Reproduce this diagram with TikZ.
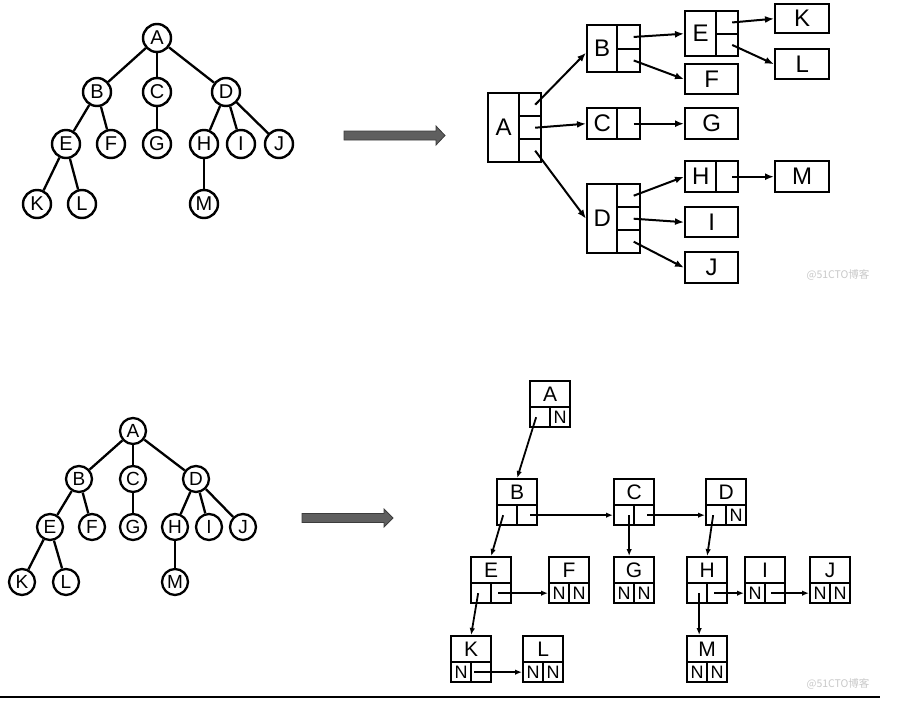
\documentclass[tikz,border=0pt]{standalone}
\usepackage{fontspec}
\setmainfont{Liberation Sans}
\newfontfamily\cjkfont{Noto Sans CJK SC}
\usetikzlibrary{arrows.meta,calc}
\definecolor{bigarrow}{RGB}{95,95,95}
\definecolor{bigarrowedge}{RGB}{60,60,60}
\definecolor{baseline}{RGB}{176,186,196}
\definecolor{wmgray}{RGB}{200,200,200}
\newcommand\lnkbox[6]{%
  \node[bcell] (#1) at (#2,#3) {#4};
  \node[bsub] (#11) at (#2,#3+26) {#5};
  \node[bsub] (#12) at (#2+20,#3+26) {#6};}
\begin{document}
\begin{tikzpicture}[x=1pt,y=-1pt,
  circ/.style={circle,draw,line width=2.4pt,inner sep=0pt,minimum size=28pt,font=\fontsize{20}{20}\selectfont},
  circs/.style={circle,draw,line width=2.3pt,inner sep=0pt,minimum size=26pt,font=\fontsize{19}{19}\selectfont},
  treeedge/.style={line width=2.3pt},
  tcell/.style={draw,line width=2.4pt,inner sep=0pt,anchor=north west,font=\fontsize{24}{24}\selectfont},
  bcell/.style={draw,line width=2.3pt,inner sep=0pt,anchor=north west,minimum width=40pt,minimum height=26pt,font=\fontsize{21}{21}\selectfont},
  bsub/.style={draw,line width=2.3pt,inner sep=0pt,anchor=north west,minimum width=20pt,minimum height=20pt,font=\fontsize{18}{18}\selectfont},
  tarrow/.style={line width=2pt,-{Latex[length=9pt,width=7pt]}},
  barrow/.style={line width=1.8pt,-{Latex[length=7pt,width=5.5pt]}},
  wm/.style={text=wmgray,font=\cjkfont\fontsize{10.5}{10.5}\selectfont,inner sep=0pt}
]
\useasboundingbox (0,0) rectangle (902,702);

% ---------- top tree ----------
\node[circ] (cA) at (157,38) {A};
\node[circ] (cB) at (97,92) {B};
\node[circ] (cC) at (157,92) {C};
\node[circ] (cD) at (226,92) {D};
\node[circ] (cE) at (66,144) {E};
\node[circ] (cF) at (111,144) {F};
\node[circ] (cG) at (157,144) {G};
\node[circ] (cH) at (204,144) {H};
\node[circ] (cI) at (241,144) {I};
\node[circ] (cJ) at (279,144) {J};
\node[circ] (cK) at (37,204) {K};
\node[circ] (cL) at (82,204) {L};
\node[circ] (cM) at (204,204) {M};
\draw[treeedge] (cA) -- (cB); \draw[treeedge] (cA) -- (cC); \draw[treeedge] (cA) -- (cD);
\draw[treeedge] (cB) -- (cE); \draw[treeedge] (cB) -- (cF); \draw[treeedge] (cC) -- (cG);
\draw[treeedge] (cD) -- (cH); \draw[treeedge] (cD) -- (cI); \draw[treeedge] (cD) -- (cJ);
\draw[treeedge] (cE) -- (cK); \draw[treeedge] (cE) -- (cL); \draw[treeedge] (cH) -- (cM);

% ---------- bottom tree ----------
\node[circs] (dA) at (133,431) {A};
\node[circs] (dB) at (79,479) {B};
\node[circs] (dC) at (133,479) {C};
\node[circs] (dD) at (196,479) {D};
\node[circs] (dE) at (50,527) {E};
\node[circs] (dF) at (92,527) {F};
\node[circs] (dG) at (133,527) {G};
\node[circs] (dH) at (175,527) {H};
\node[circs] (dI) at (209,527) {I};
\node[circs] (dJ) at (243,527) {J};
\node[circs] (dK) at (22,582) {K};
\node[circs] (dL) at (66,582) {L};
\node[circs] (dM) at (175,582) {M};
\draw[treeedge] (dA) -- (dB); \draw[treeedge] (dA) -- (dC); \draw[treeedge] (dA) -- (dD);
\draw[treeedge] (dB) -- (dE); \draw[treeedge] (dB) -- (dF); \draw[treeedge] (dC) -- (dG);
\draw[treeedge] (dD) -- (dH); \draw[treeedge] (dD) -- (dI); \draw[treeedge] (dD) -- (dJ);
\draw[treeedge] (dE) -- (dK); \draw[treeedge] (dE) -- (dL); \draw[treeedge] (dH) -- (dM);

% ---------- big grey arrows ----------
\filldraw[fill=bigarrow,draw=bigarrowedge,line width=0.8pt]
  (344,131) -- (436,131) -- (436,126) -- (445,135.5) -- (436,145) -- (436,140) -- (344,140) -- cycle;
\filldraw[fill=bigarrow,draw=bigarrowedge,line width=0.8pt]
  (302,513.5) -- (384,513.5) -- (384,509) -- (393,518) -- (384,527) -- (384,522.5) -- (302,522.5) -- cycle;

% ---------- top right: child-sibling pointer nodes ----------
\node[tcell,minimum width=31pt,minimum height=69pt] (tA) at (487,92) {A};
\node[tcell,minimum width=22pt,minimum height=23pt] (tA1) at (518,92) {};
\node[tcell,minimum width=22pt,minimum height=23pt] (tA2) at (518,115) {};
\node[tcell,minimum width=22pt,minimum height=23pt] (tA3) at (518,138) {};

\node[tcell,minimum width=30pt,minimum height=47pt] (tB) at (586,24) {B};
\node[tcell,minimum width=23pt,minimum height=23.5pt] (tB1) at (616,24) {};
\node[tcell,minimum width=23pt,minimum height=23.5pt] (tB2) at (616,47.5) {};

\node[tcell,minimum width=31pt,minimum height=45pt] (tE) at (684,10) {E};
\node[tcell,minimum width=22pt,minimum height=22.5pt] (tE1) at (715,10) {};
\node[tcell,minimum width=22pt,minimum height=22.5pt] (tE2) at (715,32.5) {};

\node[tcell,minimum width=30pt,minimum height=31pt] (tC) at (586,107) {C};
\node[tcell,minimum width=23pt,minimum height=31pt] (tC1) at (616,107) {};

\node[tcell,minimum width=30pt,minimum height=69pt] (tD) at (586,183) {D};
\node[tcell,minimum width=23pt,minimum height=23pt] (tD1) at (616,183) {};
\node[tcell,minimum width=23pt,minimum height=23pt] (tD2) at (616,206) {};
\node[tcell,minimum width=23pt,minimum height=23pt] (tD3) at (616,229) {};

\node[tcell,minimum width=31pt,minimum height=31pt] (tH) at (684,160) {H};
\node[tcell,minimum width=22pt,minimum height=31pt] (tH1) at (715,160) {};

\node[tcell,minimum width=54pt,minimum height=29pt] (tK) at (774,3) {K};
\node[tcell,minimum width=54pt,minimum height=30pt] (tL) at (774,48) {L};
\node[tcell,minimum width=53pt,minimum height=30pt] (tF) at (684,63) {F};
\node[tcell,minimum width=53pt,minimum height=31pt] (tG) at (684,107) {G};
\node[tcell,minimum width=54pt,minimum height=31pt] (tM) at (774,160) {M};
\node[tcell,minimum width=53pt,minimum height=30pt] (tI) at (684,206) {I};
\node[tcell,minimum width=53pt,minimum height=31pt] (tJ) at (684,251) {J};

\draw[tarrow] ($(tA1.center)+(5,0)$) -- ($(tB.west)+(0,4)$);
\draw[tarrow] ($(tA2.center)+(5,0)$) -- (tC.west);
\draw[tarrow] ($(tA3.center)+(5,0)$) -- (tD.west);
\draw[tarrow] ($(tB1.center)+(5,0)$) -- (tE.west);
\draw[tarrow] ($(tB2.center)+(5,0)$) -- (tF.west);
\draw[tarrow] ($(tE1.center)+(5,0)$) -- (tK.west);
\draw[tarrow] ($(tE2.center)+(5,0)$) -- (tL.west);
\draw[tarrow] ($(tC1.center)+(5,0)$) -- (tG.west);
\draw[tarrow] ($(tD1.center)+(5,0)$) -- (tH.west);
\draw[tarrow] ($(tD2.center)+(5,0)$) -- (tI.west);
\draw[tarrow] ($(tD3.center)+(5,0)$) -- (tJ.west);
\draw[tarrow] ($(tH1.center)+(5,0)$) -- (tM.west);

% ---------- bottom right: binary linked nodes ----------
\lnkbox{bA}{529}{380}{A}{}{N}
\lnkbox{bB}{496}{478}{B}{}{}
\lnkbox{bC}{613}{478}{C}{}{}
\lnkbox{bD}{705}{478}{D}{}{N}
\lnkbox{bE}{470}{556}{E}{}{}
\lnkbox{bF}{548}{556}{F}{N}{N}
\lnkbox{bG}{613}{556}{G}{N}{N}
\lnkbox{bH}{686}{556}{H}{}{}
\lnkbox{bI}{744}{556}{I}{N}{}
\lnkbox{bJ}{809}{556}{J}{N}{N}
\lnkbox{bK}{450}{635}{K}{N}{}
\lnkbox{bL}{522}{635}{L}{N}{N}
\lnkbox{bM}{686}{635}{M}{N}{N}

\draw[barrow] ($(bA1.center)+(-4,0)$) -- (bB.north);
\draw[barrow] ($(bB1.center)+(-4,0)$) -- (bE.north);
\draw[barrow] ($(bB2.center)+(3,0)$) -- (bC1.west);
\draw[barrow] ($(bC1.center)+(5,0)$) -- ($(bG.north)+(-5,0)$);
\draw[barrow] ($(bC2.center)+(3,0)$) -- (bD1.west);
\draw[barrow] ($(bD1.center)+(-3,0)$) -- (bH.north);
\draw[barrow] ($(bE1.center)+(-3,0)$) -- (bK.north);
\draw[barrow] ($(bE2.center)+(-3,0)$) -- (bF1.west);
\draw[barrow] ($(bH1.center)+(2,0)$) -- ($(bM.north)+(-8,0)$);
\draw[barrow] ($(bH2.center)+(-3,0)$) -- (bI1.west);
\draw[barrow] ($(bI2.center)+(-4,0)$) -- (bJ1.west);
\draw[barrow] ($(bK2.center)+(-7,0)$) -- (bL1.west);

% ---------- watermark and bottom rule ----------
\node[wm] (wm1) at (838,275) {@51CTO博客};
\node[wm] (wm2) at (838,684) {@51CTO博客};
\draw[baseline,line width=1.2pt] (0,697) -- (880,697);
\end{tikzpicture}
\end{document}
